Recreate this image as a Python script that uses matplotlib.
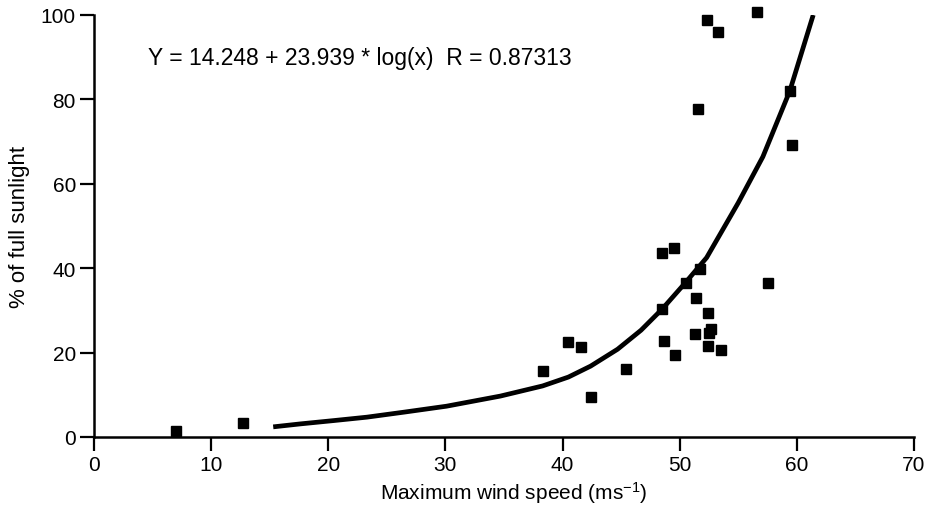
import matplotlib
matplotlib.use("Agg")
import matplotlib.pyplot as plt

plt.rcParams['font.family'] = ['Liberation Sans', 'DejaVu Sans']
plt.rcParams['mathtext.default'] = 'regular'

# measured points: max wind speed (m/s) vs % of full sunlight
wind = [7.0, 12.7, 38.3, 40.5, 41.6, 42.4, 45.4, 48.7, 49.6, 48.5,
        50.5, 51.7, 51.4, 52.4, 51.3, 52.7, 52.5, 52.4, 53.5, 57.5,
        48.5, 49.5, 51.6, 52.3, 53.3, 56.6, 59.4, 59.6]
sun = [1.4, 3.3, 15.6, 22.5, 21.3, 9.5, 16.1, 22.7, 19.4, 30.3,
       36.6, 39.7, 32.9, 29.3, 24.3, 25.5, 24.6, 21.5, 20.6, 36.6,
       43.5, 44.9, 77.8, 98.8, 96.0, 100.7, 82.0, 69.3]

# fitted curve
fit_x = [15.3, 17.6, 20.5, 23.3, 26.5, 30.1, 34.7, 38.3, 40.5, 42.4,
         44.7, 46.7, 48.5, 50.5, 52.3, 55.0, 57.1, 59.4, 61.4]
fit_y = [2.4, 3.1, 3.9, 4.7, 5.9, 7.3, 9.7, 12.1, 14.2, 16.8,
         20.8, 25.3, 30.3, 36.6, 42.5, 55.5, 66.4, 82.0, 100.0]

fig = plt.figure(figsize=(9.26, 5.06), dpi=100)
ax = fig.add_axes([0.1015, 0.1344, 0.8855, 0.834])

ax.plot(fit_x, fit_y, color='black', lw=3.4, solid_capstyle='butt')
ax.plot(wind, sun, 's', color='black', ms=6.5, clip_on=False)

ax.set_xlim(0, 70)
ax.set_ylim(0, 100)
ax.set_xticks(range(0, 71, 10))
ax.set_yticks(range(0, 101, 20))
for s in ['top', 'right']:
    ax.spines[s].set_visible(False)
for s in ['left', 'bottom']:
    ax.spines[s].set_linewidth(1.8)
ax.tick_params(direction='out', length=10, width=1.6, labelsize=15, pad=3)

ax.set_xlabel('Maximum wind speed (ms$^{-1}$)', fontsize=15)
ax.xaxis.set_label_coords(0.512, -0.099)
ax.set_ylabel('% of full sunlight', fontsize=16, labelpad=8)

ax.text(4.6, 90, 'Y = 14.248 + 23.939 * log(x)  R = 0.87313',
        fontsize=16.5, va='center', ha='left')

fig.savefig('out.png', dpi=100)
